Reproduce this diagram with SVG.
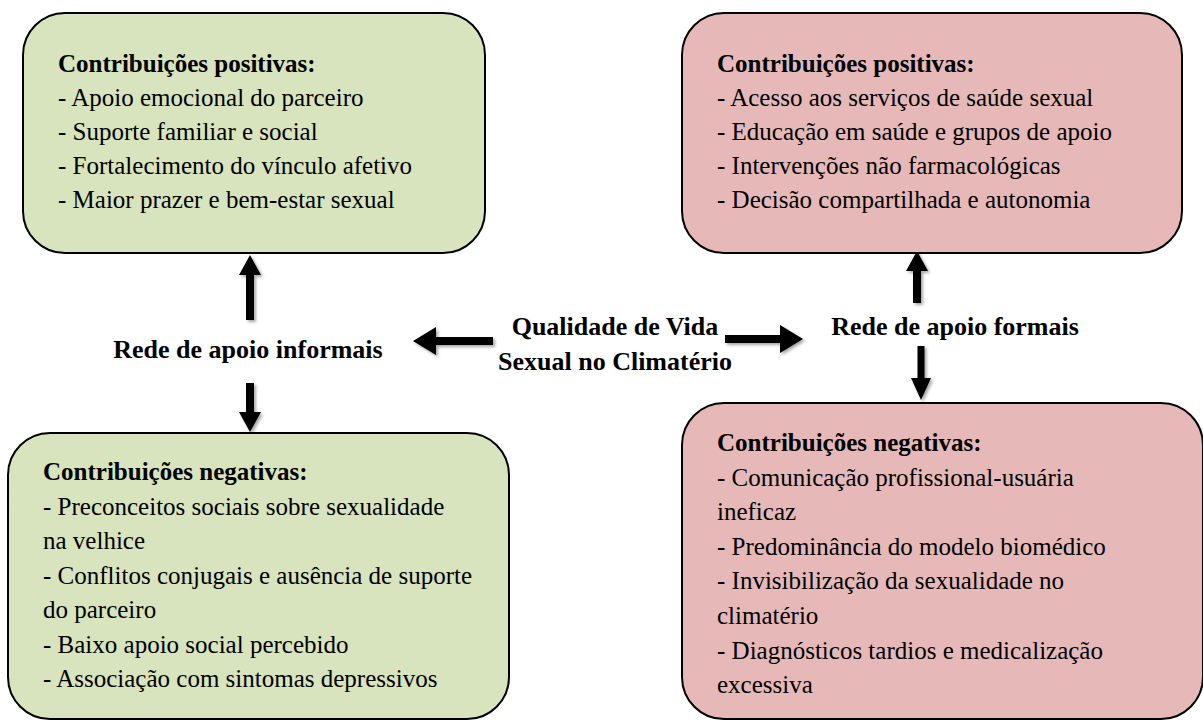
<svg xmlns="http://www.w3.org/2000/svg" width="1203" height="723" viewBox="0 0 1203 723">
<style>
.box{stroke:#000;stroke-width:2}
.green{fill:#D7E4BD}
.pink{fill:#E6B9B8}
text{font-family:"Liberation Serif","Times New Roman",serif;font-size:25px;fill:#000}
.b{font-weight:bold}
.c{font-weight:bold;font-size:26px;text-anchor:middle}
.arrow{fill:#000;filter:url(#sh)}
</style>
<defs>
<filter id="sh" x="-50%" y="-50%" width="200%" height="200%">
<feDropShadow dx="2" dy="2" stdDeviation="1.5" flood-color="#000" flood-opacity="0.35"/>
</filter>
</defs>
<rect width="1203" height="723" fill="#fff"/>
<g id="connectors">
<path class="arrow" d="M250,255 L261,275 L254,275 L254,320 L246,320 L246,275 L239,275 Z"/>
<path class="arrow" d="M250,432 L261,412 L254,412 L254,383 L246,383 L246,412 L239,412 Z"/>
<path class="arrow" d="M413,341 L436,327 L436,337 L493,337 L493,345 L436,345 L436,355 Z"/>
<path class="arrow" d="M803,339 L780,325 L780,335 L725,335 L725,343 L780,343 L780,353 Z"/>
<path class="arrow" d="M917,251 L928,271 L921,271 L921,303 L913,303 L913,271 L906,271 Z"/>
<path class="arrow" d="M921,400 L931,378 L924.5,378 L924.5,346 L917.5,346 L917.5,378 L911,378 Z"/>
</g>
<g id="informal-positive">
<rect class="box green" x="23" y="13" width="462" height="240" rx="42"/>
<text class="b" x="58" y="72">Contribuições positivas:</text>
<text x="58" y="106">- Apoio emocional do parceiro</text>
<text x="58" y="140">- Suporte familiar e social</text>
<text x="58" y="174">- Fortalecimento do vínculo afetivo</text>
<text x="58" y="208">- Maior prazer e bem-estar sexual</text>
</g>
<g id="formal-positive">
<rect class="box pink" x="682" y="13" width="500" height="240" rx="42"/>
<text class="b" x="717" y="72">Contribuições positivas:</text>
<text x="717" y="106">- Acesso aos serviços de saúde sexual</text>
<text x="717" y="140">- Educação em saúde e grupos de apoio</text>
<text x="717" y="174">- Intervenções não farmacológicas</text>
<text x="717" y="208">- Decisão compartilhada e autonomia</text>
</g>
<g id="informal-label">
<text class="c" x="248" y="358">Rede de apoio informais</text>
</g>
<g id="center">
<text class="c" x="615" y="335">Qualidade de Vida</text>
<text class="c" x="615" y="370">Sexual no Climatério</text>
</g>
<g id="formal-label">
<text class="c" x="955" y="335">Rede de apoio formais</text>
</g>
<g id="informal-negative">
<rect class="box green" x="8" y="433" width="501" height="286" rx="42"/>
<text class="b" x="43" y="480">Contribuições negativas:</text>
<text x="43" y="514.5">- Preconceitos sociais sobre sexualidade</text>
<text x="43" y="549">na velhice</text>
<text x="43" y="583.5">- Conflitos conjugais e ausência de suporte</text>
<text x="43" y="618">do parceiro</text>
<text x="43" y="652.5">- Baixo apoio social percebido</text>
<text x="43" y="687">- Associação com sintomas depressivos</text>
</g>
<g id="formal-negative">
<rect class="box pink" x="682" y="403" width="521" height="316" rx="42"/>
<text class="b" x="717" y="451">Contribuições negativas:</text>
<text x="717" y="485.6">- Comunicação profissional-usuária</text>
<text x="717" y="520.2">ineficaz</text>
<text x="717" y="554.8">- Predominância do modelo biomédico</text>
<text x="717" y="589.4">- Invisibilização da sexualidade no</text>
<text x="717" y="624">climatério</text>
<text x="717" y="658.6">- Diagnósticos tardios e medicalização</text>
<text x="717" y="693.2">excessiva</text>
</g>
</svg>
